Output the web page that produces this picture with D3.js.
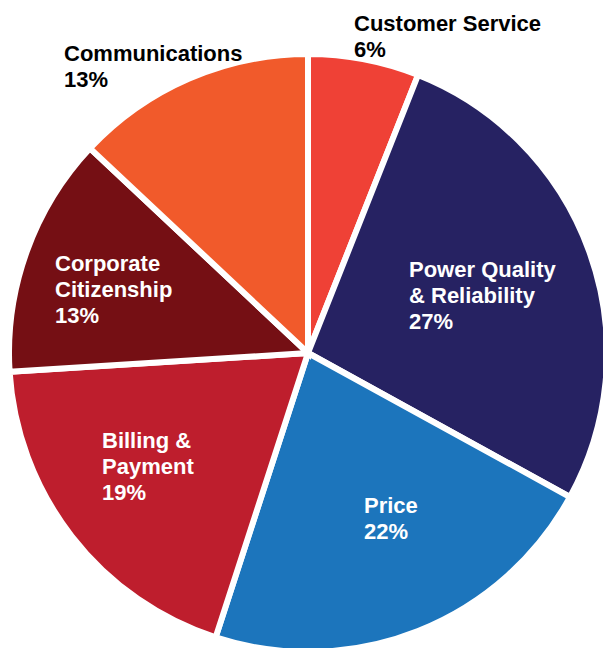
<!DOCTYPE html>
<html>
<head>
<meta charset="utf-8">
<script src="https://cdn.jsdelivr.net/npm/d3@7"></script>
<style>
  html, body { margin: 0; padding: 0; background: #fff; }
  svg text { font-family: "Liberation Sans", Arial, Helvetica, sans-serif; font-weight: bold; }
</style>
</head>
<body>
<div id="chart"></div>
<script>
// data, clockwise from 12 o'clock
const categories = ['Customer Service', 'Power Quality & Reliability', 'Price', 'Billing & Payment', 'Corporate Citizenship', 'Communications'];
const values = [6, 27, 22, 19, 13, 13];
const labelLines = [
  ['Customer Service'],
  ['Power Quality', '& Reliability'],
  ['Price'],
  ['Billing &', 'Payment'],
  ['Corporate', 'Citizenship'],
  ['Communications']
];

const colors = ['#ef4136', '#262262', '#1c75bc', '#be1e2d', '#750f14', '#f15a2b'];

// label anchor relative to pie centre (first baseline), and text colour
const labelOffset = [[46, -322], [101, -76], [56, 160], [-206, 95], [-253, -82], [-244, -292]];
const labelColor = ['#000', '#fff', '#fff', '#fff', '#fff', '#000'];

const width = 603, height = 648;
const cx = 308, cy = 353, radius = 299;
const lineH = 26;

const svg = d3.select('#chart')
  .append('svg')
  .attr('width', width)
  .attr('height', height);

const pie = d3.pie().sort(null).value(d => d);
const arc = d3.arc().innerRadius(0).outerRadius(radius);

const g = svg.append('g').attr('transform', `translate(${cx},${cy})`);

g.selectAll('path')
  .data(pie(values))
  .join('path')
  .attr('d', arc)
  .attr('fill', (d, i) => colors[i])
  .attr('stroke', '#fff')
  .attr('stroke-width', 6)
  .attr('stroke-linejoin', 'miter');

// labels
const labels = g.selectAll('text.label')
  .data(categories)
  .join('text')
  .attr('class', 'label')
  .attr('font-size', '22px')
  .attr('fill', (d, i) => labelColor[i])
  .attr('x', (d, i) => labelOffset[i][0])
  .attr('y', (d, i) => labelOffset[i][1]);

labels.each(function (d, i) {
  const t = d3.select(this);
  const lines = labelLines[i].concat([values[i] + '%']);
  lines.forEach((s, j) => {
    t.append('tspan')
      .attr('x', labelOffset[i][0])
      .attr('dy', j === 0 ? 0 : lineH)
      .text(s);
  });
});
</script>
</body>
</html>
